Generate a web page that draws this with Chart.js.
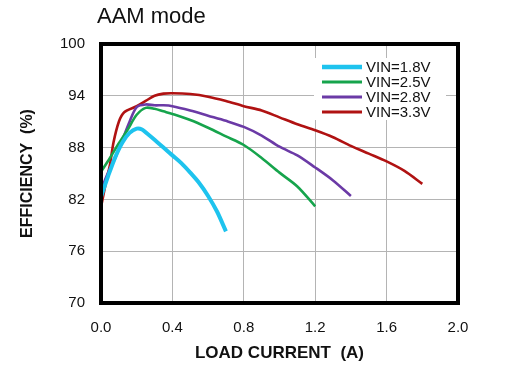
<!DOCTYPE html>
<html>
<head>
<meta charset="utf-8">
<script src="https://cdn.jsdelivr.net/npm/chart.js@4/dist/chart.umd.min.js"></script>
<style>
html,body{margin:0;padding:0;background:#fff;}
#wrap{width:509px;height:366px;position:relative;}
</style>
</head>
<body>
<div id="wrap"><canvas id="c" width="509" height="366"></canvas></div>
<script>
// ---- data ----
const seriesLabels = ['VIN=1.8V', 'VIN=2.5V', 'VIN=2.8V', 'VIN=3.3V'];
const seriesColors = ['#1ec3ee', '#16a44c', '#6b3aa6', '#b01212'];

const x18 = [0, 0.04, 0.08, 0.12, 0.16, 0.2, 0.23, 0.26, 0.3, 0.35, 0.4, 0.45, 0.5, 0.55, 0.6, 0.65, 0.7];
const y18 = [82.3, 84.7, 86.9, 88.6, 89.7, 90.2, 90.1, 89.6, 88.9, 88.0, 87.1, 86.2, 85.1, 83.9, 82.4, 80.6, 78.3];

const x25 = [0, 0.05, 0.1, 0.15, 0.2, 0.25, 0.3, 0.35, 0.4, 0.5, 0.6, 0.7, 0.8, 0.9, 1.0, 1.1, 1.2];
const y25 = [85.2, 86.8, 88.5, 90.1, 91.8, 92.6, 92.5, 92.2, 91.9, 91.2, 90.3, 89.3, 88.3, 86.8, 85.1, 83.5, 81.2];

const x28 = [0, 0.04, 0.08, 0.12, 0.16, 0.2, 0.25, 0.3, 0.35, 0.4, 0.5, 0.6, 0.7, 0.8, 0.9, 1.0, 1.1, 1.2, 1.3, 1.4];
const y28 = [83.1, 85.1, 86.8, 88.9, 91.0, 92.7, 93.0, 92.9, 92.9, 92.8, 92.3, 91.7, 91.1, 90.4, 89.4, 88.1, 87.1, 85.7, 84.2, 82.4];

const x33 = [0, 0.03, 0.05, 0.07, 0.1, 0.13, 0.2, 0.25, 0.3, 0.35, 0.4, 0.5, 0.6, 0.7, 0.8, 0.9, 1.0, 1.1, 1.2, 1.3, 1.4, 1.5, 1.6, 1.7, 1.8];
const y33 = [81.1, 84.2, 86.0, 88.6, 91.0, 92.1, 92.8, 93.4, 94.0, 94.25, 94.3, 94.2, 93.9, 93.4, 92.8, 92.3, 91.5, 90.7, 90.0, 89.2, 88.2, 87.3, 86.4, 85.3, 83.8];

const xTicks = [0, 0.4, 0.8, 1.2, 1.6, 2.0];
const yTicks = [70, 76, 82, 88, 94, 100];

const chartTitle = 'AAM mode';
const xTitle = 'LOAD CURRENT  (A)';
const yTitle = 'EFFICIENCY  (%)';

// ---- build chart ----
const FONT = '"Liberation Sans", Arial, sans-serif';
function pts(xs, ys){ return xs.map((x,i)=>({x:x, y:ys[i]})); }
const seriesX = [x18, x25, x28, x33];
const seriesY = [y18, y25, y28, y33];
const widths = [4, 2.6, 2.6, 2.6];

const datasets = seriesLabels.map((lab, i) => ({
  label: lab,
  data: pts(seriesX[i], seriesY[i]),
  borderColor: seriesColors[i],
  backgroundColor: seriesColors[i],
  borderWidth: widths[i],
  pointRadius: 0,
  tension: 0.3,
  fill: false,
  clip: false
}));

const decor = {
  id: 'decor',
  afterDraw(chart){
    const ctx = chart.ctx, a = chart.chartArea;
    ctx.save();
    // legend
    const lx = a.left + 213, ly = a.top + 14;
    ctx.fillStyle = '#fff';
    ctx.fillRect(lx, ly, 132, 62);
    ctx.font = '15px ' + FONT;
    ctx.textBaseline = 'middle';
    ctx.textAlign = 'left';
    const rows = [23, 38, 53, 68];
    chart.data.datasets.forEach((d, i) => {
      const yy = a.top + rows[i];
      ctx.strokeStyle = d.borderColor;
      ctx.lineWidth = d.borderWidth + (i === 0 ? 0.5 : 0.4);
      ctx.beginPath();
      ctx.moveTo(a.left + 221, yy);
      ctx.lineTo(a.left + 261, yy);
      ctx.stroke();
      ctx.fillStyle = '#111';
      ctx.fillText(d.label, a.left + 265, yy + 1);
    });
    // frame
    ctx.strokeStyle = '#000';
    ctx.lineWidth = 4;
    ctx.strokeRect(a.left, a.top, a.right - a.left, a.bottom - a.top);
    // title
    ctx.fillStyle = '#111';
    ctx.font = '22px ' + FONT;
    ctx.textBaseline = 'alphabetic';
    ctx.textAlign = 'left';
    ctx.fillText(chartTitle, a.left - 4, 23);
    ctx.restore();
  }
};

new Chart(document.getElementById('c'), {
  type: 'line',
  data: { datasets: datasets },
  options: {
    responsive: false,
    animation: false,
    devicePixelRatio: 1,
    layout: { padding: { top: 44, right: 51, left: 0, bottom: 0 } },
    plugins: { legend: { display: false }, tooltip: { enabled: false }, title: { display: false } },
    scales: {
      x: {
        type: 'linear', min: 0, max: 2,
        afterBuildTicks: s => { s.ticks = xTicks.map(v => ({value: v})); },
        afterFit: s => { s.height = 63; },
        grid: { color: '#b4b4b4', lineWidth: 1, drawTicks: false },
        border: { display: false },
        ticks: { padding: 16, color: '#111', font: { family: FONT, size: 15 }, callback: v => Number(v).toFixed(1), maxRotation: 0 },
        title: { display: true, text: xTitle, color: '#111', font: { family: FONT, size: 17, weight: 'bold' }, padding: { top: 0, bottom: 2 } }
      },
      y: {
        min: 70, max: 100,
        afterBuildTicks: s => { s.ticks = yTicks.map(v => ({value: v})); },
        afterFit: s => { s.width = 101; },
        grid: { color: '#b4b4b4', lineWidth: 1, drawTicks: false },
        border: { display: false },
        ticks: { padding: 16, color: '#111', font: { family: FONT, size: 15 } },
        title: { display: true, text: yTitle, color: '#111', font: { family: FONT, size: 16, weight: 'bold' }, padding: { top: 18, bottom: 0 } }
      }
    }
  },
  plugins: [decor]
});
</script>
</body>
</html>
